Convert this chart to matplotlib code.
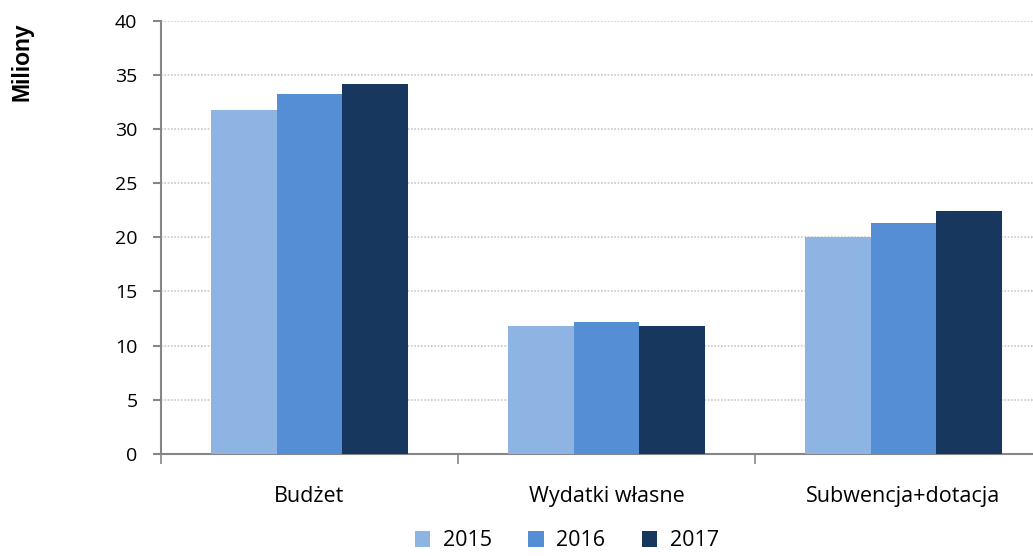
import numpy as np
import matplotlib.pyplot as plt

plt.rcParams['font.family'] = ['Open Sans', 'DejaVu Sans']

categories = ['Budżet', 'Wydatki własne', 'Subwencja+dotacja']
years = ['2015', '2016', '2017']
v2015 = [31.7, 11.8, 20.0]
v2016 = [33.2, 12.2, 21.3]
v2017 = [34.1, 11.8, 22.4]
colors = ['#8EB4E3', '#558ED5', '#17375E']

fig = plt.figure(figsize=(10.33, 5.56), dpi=100)
ax = fig.add_axes([161 / 1033, 1 - 454 / 556, 891 / 1033, 433.5 / 556])

x = np.arange(len(categories))
w = 0.22
for i, (vals, yr) in enumerate(zip([v2015, v2016, v2017], years)):
    ax.bar(x + (i - 1) * w, vals, width=w, color=colors[i], label=yr, zorder=3)

ax.set_xlim(-0.5, 2.5)
ax.set_ylim(0, 40)
ax.set_yticks(range(0, 41, 5))
ax.yaxis.grid(True, color='#c8c8c8', linestyle=(0, (1, 1)), linewidth=1.2, zorder=0)

# category ticks sit on the group boundaries, labels in the middle
ax.set_xticks([-0.5, 0.5, 1.5, 2.5])
ax.set_xticklabels([])
ax.set_xticks(x, minor=True)
ax.set_xticklabels(categories, minor=True)
ax.tick_params(axis='x', which='minor', length=0, pad=23, labelsize=15.5)
ax.tick_params(axis='x', which='major', length=7, width=1.2, color='#868686', direction='out')
ax.tick_params(axis='y', length=6, width=1.5, color='#868686', labelsize=14, pad=11)

for s in ['top', 'right']:
    ax.spines[s].set_visible(False)
ax.spines['left'].set_color('#868686')
ax.spines['left'].set_linewidth(1.5)
ax.spines['bottom'].set_color('#868686')
ax.spines['bottom'].set_linewidth(1.5)

fig.text(22 / 1033, 1 - 62 / 556, 'Miliony', rotation=90, ha='center', va='center',
         fontsize=16.5, fontweight='bold', family=['Liberation Sans', 'DejaVu Sans'])

fig.legend(loc='center', bbox_to_anchor=(567 / 1033, 1 - 541 / 556), ncol=3, frameon=False,
           fontsize=15.5, handlelength=0.7, handleheight=0.7, handletextpad=0.6, columnspacing=1.7)

fig.savefig('out.png', dpi=100)
